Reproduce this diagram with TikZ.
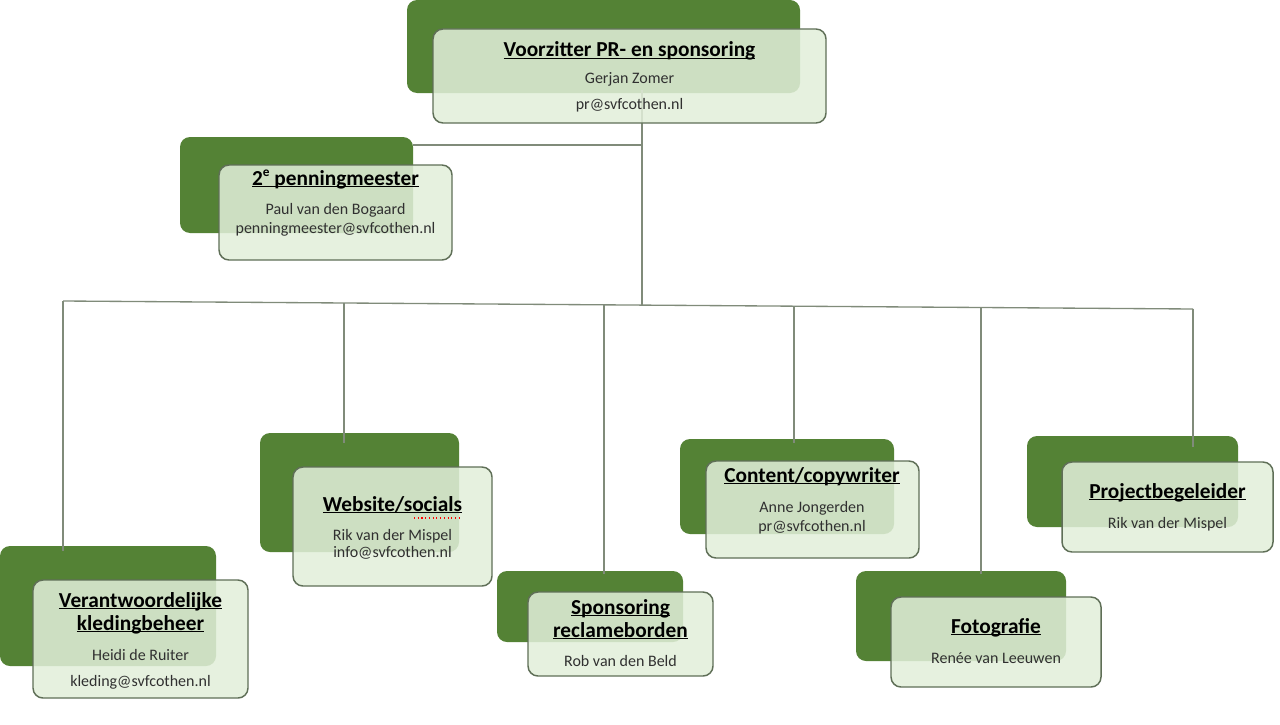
\documentclass[tikz,border=0pt]{standalone}
\usepackage{fontspec}
\setmainfont{Carlito}
\usetikzlibrary{calc,fit}
\definecolor{darkg}{HTML}{548235}
\definecolor{lightg}{HTML}{E2EFDA}
\definecolor{edgeg}{HTML}{5F6F57}
\definecolor{linkg}{HTML}{808B7A}
\definecolor{namec}{HTML}{303030}
\newsavebox\ulinebox
\newcommand{\ulin}[1]{\sbox\ulinebox{#1}\rlap{\rule[-1.8pt]{\wd\ulinebox}{0.9pt}}\usebox\ulinebox}
\newcommand{\supe}{\raisebox{0.42em}{\fontsize{10}{10}\selectfont e}}
\pgfdeclarelayer{back}
\pgfdeclarelayer{mid}
\pgfsetlayers{back,mid,main}
\tikzset{
  darkbox/.style={fill=darkg, draw=none, rounded corners=7.5pt, inner sep=0pt, outer sep=0pt},
  lightbox/.style={fill=lightg, fill opacity=0.86, draw=edgeg, line width=1.1pt, rounded corners=7.5pt, inner sep=0pt, outer sep=0pt},
  link/.style={draw=linkg, line width=1pt},
  ttl/.style={anchor=base, inner sep=0pt, font=\fontsize{16}{18}\selectfont\bfseries, text=black},
  info/.style={anchor=base, inner sep=0pt, font=\fontsize{12}{14}\selectfont, text=namec},
}
\newcommand{\orgbox}[5]{%
  \begin{pgfonlayer}{back}\node[darkbox, fit={#2 #3}] (#1-d) {};\end{pgfonlayer}
  \node[lightbox, fit={#4 #5}] (#1) {};}
\begin{document}
\begin{tikzpicture}[x=0.75pt, y=-0.75pt]
\useasboundingbox (0,0) rectangle (1280,724);
\begin{pgfonlayer}{back}
\fill[white] (0,0) rectangle (1280,724);
\end{pgfonlayer}

% boxes
\orgbox{vz}{(407,0)}{(800,93)}{(433,29)}{(826,123)}
\orgbox{pm}{(180,137)}{(413,233)}{(219,165)}{(452,260)}
\orgbox{kb}{(0,546)}{(216,666)}{(33,580)}{(248,698)}
\orgbox{ws}{(260,433)}{(459,552)}{(293,467)}{(492,586)}
\orgbox{sp}{(497,571)}{(683,642)}{(528,592)}{(713,676)}
\orgbox{cc}{(680,439)}{(894,534)}{(706,461)}{(919,558)}
\orgbox{pb}{(1027,436)}{(1238,527)}{(1062,462)}{(1273,552)}
\orgbox{fo}{(856,571)}{(1066,661)}{(891,597)}{(1101,687)}

% connectors
\begin{pgfonlayer}{mid}
\coordinate (vzs) at (642,90);
\coordinate (busM) at (642,305);
\coordinate (pj) at (642,145);
\coordinate (busL) at (63,301);
\coordinate (busR) at (1193,309);
\coordinate (jws) at (344,303);
\coordinate (jsp) at (604,305);
\coordinate (jcc) at (794,306);
\coordinate (jfo) at (981,307);
\draw[link] (vzs) -- (busM);
\draw[link] (pj) -- (pj -| pm-d.east);
\draw[link] (busL) -- (busR);
\draw[link] (busL) -- ($(busL |- kb-d.north)+(0,5)$);
\draw[link] (jws) -- ($(jws |- ws-d.north)+(0,10)$);
\draw[link] (jsp) -- ($(jsp |- sp-d.north)+(0,3)$);
\draw[link] (jcc) -- ($(jcc |- cc-d.north)+(0,4)$);
\draw[link] (jfo) -- ($(jfo |- fo-d.north)+(0,3)$);
\draw[link] (busR) -- ($(busR |- pb-d.north)+(0,11)$);
\end{pgfonlayer}

% texts
\node[ttl] (vz-t) at (629.5,57) {\ulin{Voorzitter PR- en sponsoring}};
\node[info] (vz-n) at (629.5,84) {Gerjan Zomer};
\node[info] (vz-e) at (629.5,109) {pr@svfcothen.nl};

\node[ttl] (pm-t) at (335.5,185) {\ulin{2\supe{} penningmeester}};
\node[info] (pm-n) at (335.5,214) {Paul van den Bogaard};
\node[info] (pm-e) at (335.5,233) {penningmeester@svfcothen.nl};

\node[ttl] (kb-t1) at (140.5,607) {\ulin{Verantwoordelijke}};
\node[ttl] (kb-t2) at (140.5,630) {\ulin{kledingbeheer}};
\node[info] (kb-n) at (140.5,660) {Heidi de Ruiter};
\node[info] (kb-e) at (140.5,686) {kleding@svfcothen.nl};

\node[ttl] (ws-t) at (392.5,511) {\ulin{Website/socials}};
\node[info] (ws-n) at (392.5,540) {Rik van der Mispel};
\node[info] (ws-e) at (392.5,557) {info@svfcothen.nl};
\draw[red, dotted, line width=0.8pt] (414,518) -- (462,518);

\node[ttl] (sp-t1) at (620.5,614) {\ulin{Sponsoring}};
\node[ttl] (sp-t2) at (620.5,637) {\ulin{reclameborden}};
\node[info] (sp-n) at (620.5,666) {Rob van den Beld};

\node[ttl] (cc-t) at (812,482) {\ulin{Content/copywriter}};
\node[info] (cc-n) at (812,512) {Anne Jongerden};
\node[info] (cc-e) at (812,531) {pr@svfcothen.nl};

\node[ttl] (pb-t) at (1167.5,498) {\ulin{Projectbegeleider}};
\node[info] (pb-n) at (1167.5,528) {Rik van der Mispel};

\node[ttl] (fo-t) at (996,633) {\ulin{Fotografie}};
\node[info] (fo-n) at (996,663) {Renée van Leeuwen};
\end{tikzpicture}
\end{document}
